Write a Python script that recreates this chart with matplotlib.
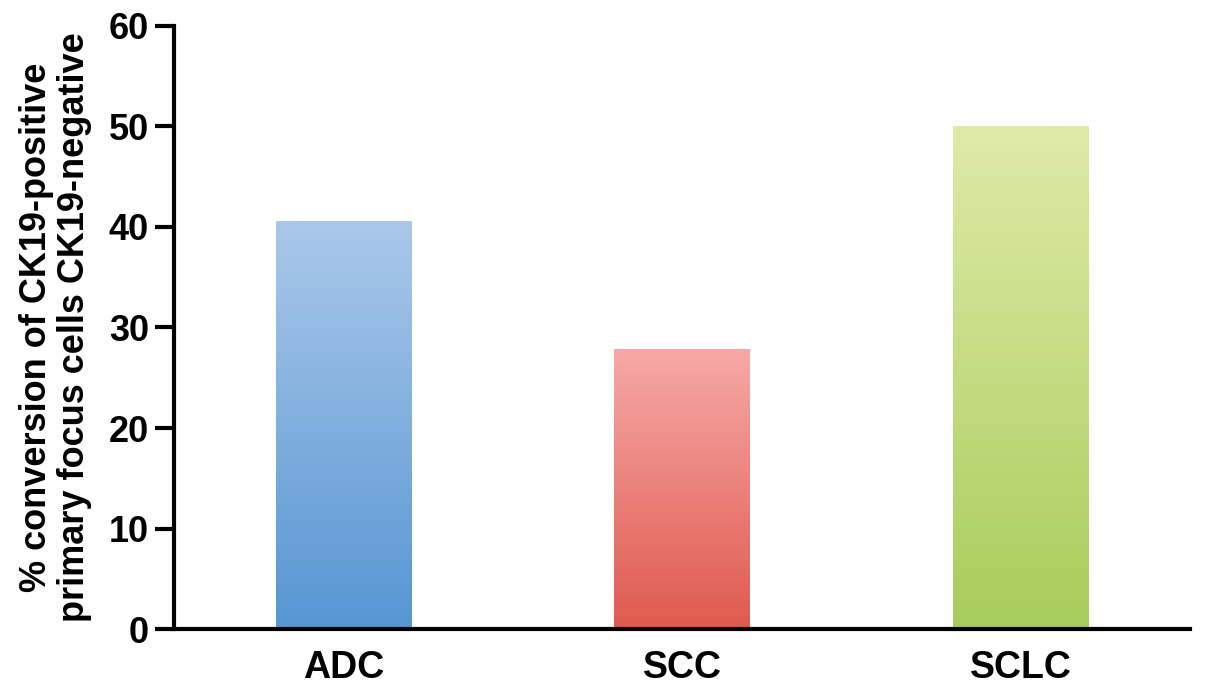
import numpy as np
import matplotlib
matplotlib.use("Agg")
import matplotlib.pyplot as plt
from matplotlib.colors import LinearSegmentedColormap

categories = ["ADC", "SCC", "SCLC"]
values = [40.5, 27.8, 50.0]
top_colors = ["#aac8ea", "#f7a9a7", "#dfeaa8"]
bottom_colors = ["#5796d3", "#df5a4f", "#a8cd5b"]

plt.rcParams["font.family"] = ["Liberation Sans", "DejaVu Sans"]
plt.rcParams["font.weight"] = "bold"

fig = plt.figure(figsize=(12.05, 6.91), dpi=100)
ax = fig.add_axes([0.1444, 0.0897, 0.8432, 0.8727])

x = np.arange(len(categories))
width = 0.40
grad = np.linspace(1, 0, 256).reshape(-1, 1)
for xi, v, ct, cb in zip(x, values, top_colors, bottom_colors):
    cmap = LinearSegmentedColormap.from_list("g", [cb, ct])
    ax.imshow(grad, cmap=cmap, aspect="auto", origin="upper",
              extent=(xi - width / 2, xi + width / 2, 0, v), zorder=2)

ax.set_xlim(-0.5, 2.5)
ax.set_ylim(0, 60)
ax.set_xticks(x)
ax.set_xticklabels(categories, fontsize=27, fontweight="bold")
ax.set_yticks(range(0, 61, 10))
ax.tick_params(axis="y", labelsize=26, length=14, width=3, direction="out", pad=4)
ax.tick_params(axis="x", length=0, pad=15)
for lbl in ax.get_yticklabels():
    lbl.set_fontweight("bold")

for s in ["top", "right"]:
    ax.spines[s].set_visible(False)
ax.spines["left"].set_linewidth(3)
ax.spines["bottom"].set_linewidth(3)

ax.set_ylabel("% conversion of CK19-positive\nprimary focus cells CK19-negative",
              fontsize=26, fontweight="bold", labelpad=12, linespacing=1.1)

fig.savefig("out.png", dpi=100)
